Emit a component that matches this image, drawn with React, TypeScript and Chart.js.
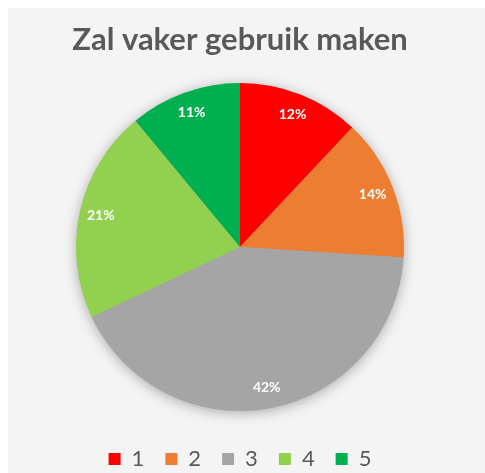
import React, { useEffect, useRef } from "react";
import { Chart, registerables } from "chart.js";

Chart.register(...registerables);

const titleText = "Zal vaker gebruik maken";
const categories = ["1", "2", "3", "4", "5"];
const values = [12, 14, 42, 21, 11];
const colors = ["#FF0000", "#ED7D31", "#A5A5A5", "#92D050", "#00B050"];

const shadowPlugin = {
  id: "pieShadow",
  beforeDatasetsDraw(chart: any) {
    const meta = chart.getDatasetMeta(0);
    const el = meta.data[0];
    if (!el) return;
    const ctx = chart.ctx;
    ctx.save();
    ctx.shadowColor = "rgba(0,0,0,0.35)";
    ctx.shadowBlur = 14;
    ctx.shadowOffsetX = 0;
    ctx.shadowOffsetY = 2;
    ctx.beginPath();
    ctx.arc(el.x, el.y, el.outerRadius - 1, 0, Math.PI * 2);
    ctx.fillStyle = "#A5A5A5";
    ctx.fill();
    ctx.restore();
  },
};

const labelPlugin = {
  id: "pieLabels",
  afterDatasetsDraw(chart: any) {
    const meta = chart.getDatasetMeta(0);
    const ctx = chart.ctx;
    const ds = chart.data.datasets[0].data as number[];
    const total = ds.reduce((a, b) => a + b, 0);
    ctx.save();
    ctx.fillStyle = "#FFFFFF";
    ctx.font = "bold 14px Lato";
    ctx.textAlign = "center";
    ctx.textBaseline = "middle";
    meta.data.forEach((el: any, i: number) => {
      const mid = (el.startAngle + el.endAngle) / 2;
      const r = el.outerRadius * 0.87;
      const x = el.x + Math.cos(mid) * r;
      const y = el.y + Math.sin(mid) * r;
      ctx.fillText(Math.round((ds[i] / total) * 100) + "%", x, y);
    });
    ctx.restore();
  },
};

export default function App() {
  const ref = useRef<HTMLCanvasElement>(null);
  useEffect(() => {
    if (!ref.current) return;
    const chart = new Chart(ref.current, {
      type: "pie",
      data: {
        labels: categories,
        datasets: [
          {
            data: values,
            backgroundColor: colors,
            borderWidth: 0,
            radius: 164,
          },
        ],
      },
      options: {
        animation: false,
        responsive: false,
        layout: { padding: { left: 3, right: 0, top: 0, bottom: 0 } },
        plugins: {
          title: {
            display: true,
            text: titleText,
            color: "#595959",
            font: { family: "Lato", size: 31, weight: "bold" },
            padding: { top: 13, bottom: 9 },
          },
          legend: {
            position: "bottom",
            labels: {
              color: "#595959",
              font: { family: "Lato", size: 22 },
              boxWidth: 12,
              boxHeight: 12,
              padding: 21,
            },
          },
          tooltip: { enabled: false },
        },
      },
      plugins: [shadowPlugin, labelPlugin],
    });
    return () => chart.destroy();
  }, []);
  return (
    <div
      style={{
        position: "absolute",
        left: 8,
        top: 8,
        width: 477,
        height: 465,
        background: "#F4F4F4",
        overflow: "hidden",
      }}
    >
      <canvas ref={ref} width={461} height={472} style={{ display: "block" }} />
    </div>
  );
}
